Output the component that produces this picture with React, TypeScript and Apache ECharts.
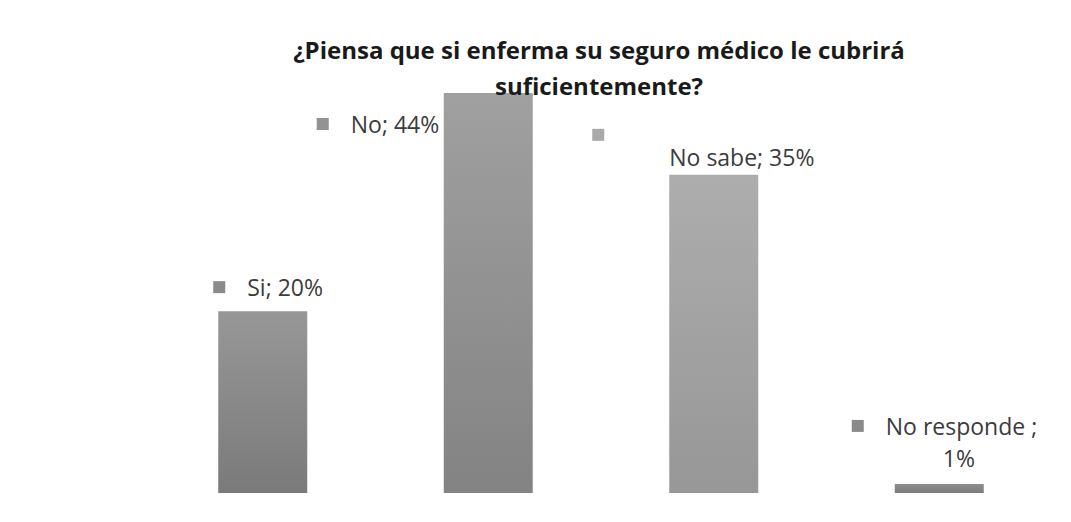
import React, { useEffect, useRef } from "react";
import * as echarts from "echarts";

const titleText = "¿Piensa que si enferma su seguro médico le cubrirá\nsuficientemente?";
const categories = ["Si", "No", "No sabe", "No responde"];
const values = [20, 44, 35, 1];
const labelTexts = ["Si; 20%", "No; 44%", "No sabe; 35%", "No responde ;|1%"];
const topColors = ["#979797", "#a0a0a0", "#adadad", "#8e8e8e"];
const bottomColors = ["#7a7a7a", "#838383", "#979797", "#7c7c7c"];
const keyColors = ["#8a8a8a", "#939393", "#a9a9a9", "#8a8a8a"];

export default function App() {
  const ref = useRef<HTMLDivElement>(null);
  useEffect(() => {
    if (!ref.current) return;
    const chart = echarts.init(ref.current, undefined, { renderer: "svg" });
    const rich: any = {
      t: { fontSize: 23, color: "#3c3c3c", fontFamily: "Open Sans" },
      gap: { width: 22 },
      sp1: { width: 77 },
      sp2: { width: 91 },
    };
    keyColors.forEach((c, i) => {
      rich["sq" + i] = { width: 12, height: 12, backgroundColor: c };
    });
    const positions: any[] = [
      [-5, -36],
      [-127, 19],
      [-77, -51],
      [-43, -74],
    ];
    const formatters = [
      `{sq0|}{gap|}{t|${labelTexts[0]}}`,
      `{sq1|}{gap|}{t|${labelTexts[1]}}`,
      `{sq2|}\n{sp1|}{t|${labelTexts[2]}}`,
      `{sq3|}{gap|}{t|${labelTexts[3].split("|")[0]}}\n{sp2|}{t|${labelTexts[3].split("|")[1]}}`,
    ];
    const lineHeights = [24, 24, 22, 32];
    const data = values.map((v, i) => ({
      value: v,
      itemStyle: {
        color: new echarts.graphic.LinearGradient(0, 0, 0, 1, [
          { offset: 0, color: topColors[i] },
          { offset: 1, color: bottomColors[i] },
        ]),
      },
      label: {
        show: true,
        position: positions[i],
        align: "left",
        verticalAlign: "top",
        formatter: formatters[i],
        lineHeight: lineHeights[i],
        rich: Object.fromEntries(
          Object.entries(rich).map(([k, s]: any) => [k, { ...s, lineHeight: lineHeights[i] }])
        ),
      },
    }));
    chart.setOption({
      animation: false,
      backgroundColor: "#ffffff",
      title: {
        text: titleText,
        left: 594,
        top: 26,
        textAlign: "center",
        textStyle: {
          fontFamily: "Open Sans",
          fontWeight: "bold",
          fontSize: 24,
          lineHeight: 36,
          color: "#1a1a1a",
        },
      },
      grid: { left: 150, right: 19, top: 93, bottom: 29 },
      xAxis: {
        type: "category",
        data: categories,
        show: false,
      },
      yAxis: { type: "value", min: 0, max: 44, show: false },
      series: [
        {
          type: "bar",
          data,
          barWidth: 89,
        },
      ],
    });
    return () => chart.dispose();
  }, []);
  return (
    <div
      ref={ref}
      style={{ position: "fixed", left: 0, top: 0, width: 1071, height: 522 }}
    />
  );
}
